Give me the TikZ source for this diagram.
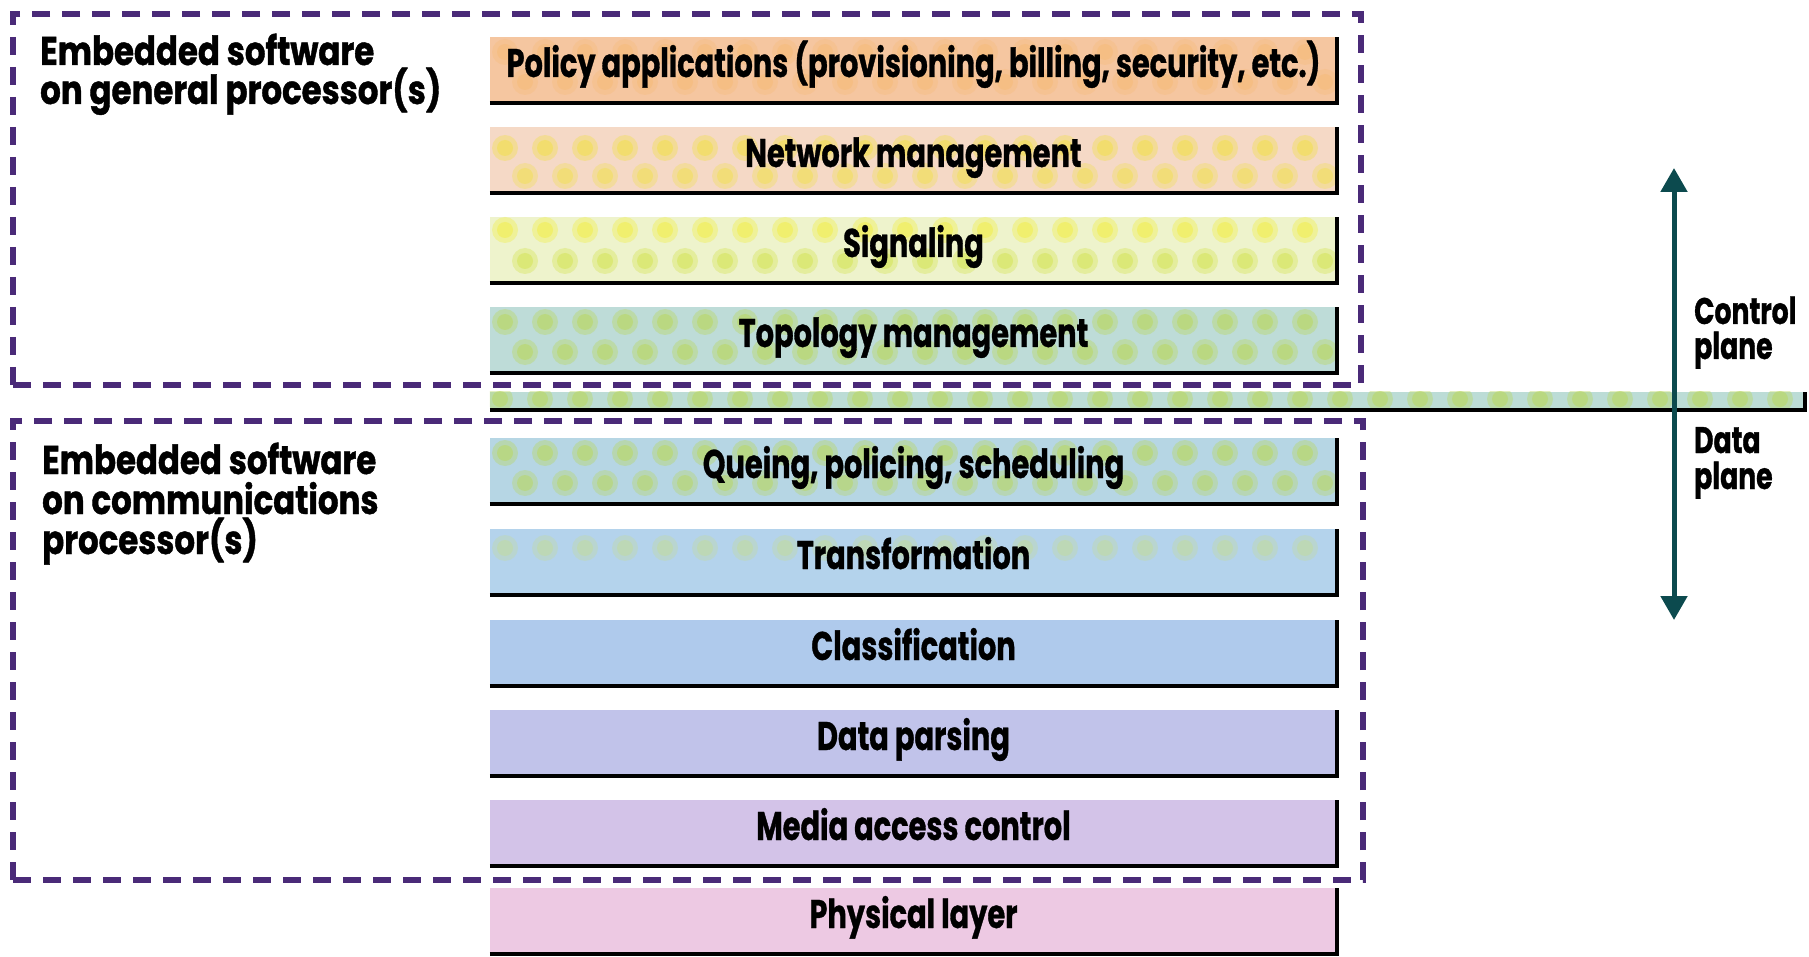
\documentclass[tikz,border=0pt]{standalone}
\usepackage{fontspec}
\setmainfont{Poppins}[FakeStretch=0.72, BoldFeatures={FakeBold=0.8}]
\newfontfamily\labfont{Poppins}[FakeStretch=0.81, BoldFeatures={FakeBold=1}]
\usetikzlibrary{arrows.meta}
\definecolor{cPolicy}{HTML}{F5C6A0}
\definecolor{cNet}{HTML}{F5D9C6}
\definecolor{cSig}{HTML}{EEF3CC}
\definecolor{cTopo}{HTML}{BEDCD8}
\definecolor{cStrip}{HTML}{BCDCD6}
\definecolor{cQueue}{HTML}{B6D6E4}
\definecolor{cTrans}{HTML}{B4D3EC}
\definecolor{cClass}{HTML}{AFCAEC}
\definecolor{cParse}{HTML}{C1C3EA}
\definecolor{cMac}{HTML}{D3C3E8}
\definecolor{cPhys}{HTML}{EDC9E3}
\definecolor{dOrange}{HTML}{F5B870}
\definecolor{dYellow}{HTML}{F2E04E}
\definecolor{dLemon}{HTML}{F1EE4C}
\definecolor{dLime}{HTML}{D5E458}
\definecolor{dGreen}{HTML}{B9D862}
\definecolor{dPale}{HTML}{C4DC96}
\definecolor{cDash}{HTML}{4A2A78}
\definecolor{cArrow}{HTML}{0C4A4E}
\tikzset{
  layerbox/.style={rectangle, draw=none, minimum width=847pt, minimum height=66pt, inner sep=0pt},
  edgeline/.style={line width=4.5pt, black},
  bartext/.style={font=\bfseries\fontsize{40}{44}\selectfont, inner sep=0pt},
  sidetext/.style={font=\labfont\bfseries\fontsize{40}{40}\selectfont, inner sep=0pt},
  planetext/.style={font=\bfseries\fontsize{37}{34}\selectfont, inner sep=0pt},
  dashbox/.style={rectangle, draw=cDash, line width=5.5pt, dash pattern=on 18pt off 12pt, inner sep=0pt},
  planearrow/.style={cArrow, line width=5pt, {Triangle[width=26pt,length=24pt]}-{Triangle[width=26pt,length=24pt]}}
}
% soft halftone blobs: #1 row centre y, #2 colour, #3 x offset, #4 opacity, #5 first x, #6 count
\newcommand\dotrow[6]{%
  \foreach \k in {0,...,#6} {%
    \fill[#2, opacity={0.4*#4}] ({#5+#3+40*\k},#1) circle (13);
    \fill[#2, opacity={0.55*#4}] ({#5+#3+40*\k},#1) circle (8);
  }%
}
% name, bottom y, fill colour, text, dot code
\newcommand\stacklayer[5]{%
  \node[layerbox, fill=#3] (#1) at (913.5,{#2-33}) {};
  \begin{scope}
    \clip (#1.south west) rectangle (#1.north east);
    #5
  \end{scope}
  \draw[edgeline] (#1.south west) -- (#1.south east) -- (#1.north east);
  \node[bartext, anchor=base] (#1text) at (913.5,{#2-26}) {#4};
}
\begin{document}
\begin{tikzpicture}[x=1pt,y=-1pt]
\useasboundingbox (0,0) rectangle (1809,957);
\fill[white] (0,0) rectangle (1809,957);
% dashed groups
\node[dashbox, minimum width=1348pt, minimum height=371pt] (gpbox) at (687,199.5) {};
\node[dashbox, minimum width=1350pt, minimum height=459pt] (cpbox) at (688,650.5) {};
% layers
\stacklayer{policy}{103}{cPolicy}{Policy applications (provisioning, billing, security, etc.)}%
  {\dotrow{52}{dOrange}{0}{0.7}{505}{20}\dotrow{82}{dOrange}{20}{0.7}{505}{20}}
\stacklayer{netmgmt}{193}{cNet}{Network management}%
  {\dotrow{148}{dYellow}{0}{1}{505}{20}\dotrow{176}{dYellow}{20}{0.85}{505}{20}}
\stacklayer{signal}{283}{cSig}{Signaling}%
  {\dotrow{230}{dLemon}{0}{1}{505}{20}\dotrow{261}{dLime}{20}{1}{505}{20}}
\stacklayer{topo}{373}{cTopo}{Topology management}%
  {\dotrow{322}{dGreen}{0}{1}{505}{20}\dotrow{352}{dGreen}{20}{1}{505}{20}}
\stacklayer{queue}{504}{cQueue}{Queing, policing, scheduling}%
  {\dotrow{453}{dGreen}{0}{1}{505}{20}\dotrow{483}{dGreen}{20}{0.9}{505}{20}}
\stacklayer{trans}{595}{cTrans}{Transformation}%
  {\dotrow{548}{dPale}{0}{0.8}{505}{20}}
\stacklayer{classif}{686}{cClass}{Classification}{}
\stacklayer{parse}{776}{cParse}{Data parsing}{}
\stacklayer{mac}{866}{cMac}{Media access control}{}
\stacklayer{phys}{954}{cPhys}{Physical layer}{}
% separator strip
\node[rectangle, fill=cStrip, minimum width=1315pt, minimum height=18pt, inner sep=0pt] (strip) at (1147.5,401) {};
\begin{scope}
  \clip (strip.south west) rectangle (strip.north east);
  \dotrow{399}{dGreen}{0}{1}{500}{32}
\end{scope}
\draw[edgeline] (strip.south west) -- (strip.south east) -- (strip.north east);
% arrow
\coordinate (atop) at (1674,168);
\coordinate (abot) at (1674,620);
\draw[planearrow] (atop) -- (abot);
% labels
\node[sidetext, anchor=base west] (gplabel) at (40,65) {Embedded software};
\node[sidetext, anchor=base west] (gplabel2) at (40,104) {on general processor(s)};
\node[sidetext, anchor=base west] (cplabel) at (42,474) {Embedded software};
\node[sidetext, anchor=base west] (cplabel2) at (42,514) {on communications};
\node[sidetext, anchor=base west] (cplabel3) at (42,554) {processor(s)};
\node[planetext, anchor=base west] (ctrl) at (1694,324) {Control};
\node[planetext, anchor=base west] (ctrl2) at (1694,359) {plane};
\node[planetext, anchor=base west] (data) at (1694,453) {Data};
\node[planetext, anchor=base west] (data2) at (1694,489) {plane};
\end{tikzpicture}
\end{document}
